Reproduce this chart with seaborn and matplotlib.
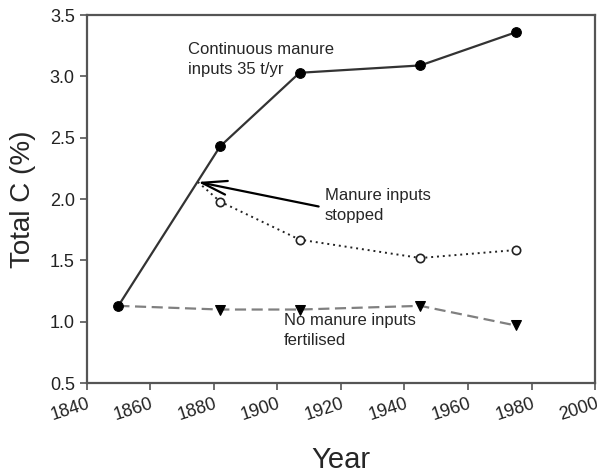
import matplotlib
matplotlib.use("Agg")
import matplotlib.pyplot as plt
import seaborn as sns
import pandas as pd

# data
years = [1850, 1882, 1907, 1945, 1975]
continuous = [1.13, 2.43, 3.03, 3.09, 3.36]
stopped_years = [1875, 1882, 1907, 1945, 1975]
stopped = [2.14, 1.98, 1.67, 1.52, 1.585]
no_manure = [1.13, 1.10, 1.10, 1.13, 0.97]

x_ticks = [1840, 1860, 1880, 1900, 1920, 1940, 1960, 1980, 2000]
y_ticks = [0.5, 1.0, 1.5, 2.0, 2.5, 3.0, 3.5]

sns.set_style("ticks")
plt.rcParams['font.family'] = ['Liberation Sans', 'DejaVu Sans']

fig, ax = plt.subplots(figsize=(5.97, 4.73), dpi=100)
fig.subplots_adjust(left=0.145, right=0.997, top=0.968, bottom=0.19)

df_cont = pd.DataFrame({"Year": years, "C": continuous})
df_stop = pd.DataFrame({"Year": stopped_years, "C": stopped})
df_none = pd.DataFrame({"Year": years, "C": no_manure})

# no manure (dashed grey, down triangles)
sns.lineplot(data=df_none, x="Year", y="C", ax=ax, color="#808080", lw=1.6,
             linestyle=(0, (5, 2.5)), marker="v", markersize=7,
             markerfacecolor="black", markeredgecolor="black", markevery=[1, 2, 3, 4])

# manure stopped (dotted, open circles)
sns.lineplot(data=df_stop, x="Year", y="C", ax=ax, color="#222222", lw=1.4,
             linestyle=(0, (1, 2)), marker="o", markersize=6,
             markerfacecolor="white", markeredgecolor="#222222", markeredgewidth=1.2,
             markevery=[1, 2, 3, 4])

# continuous manure (solid, filled circles)
sns.lineplot(data=df_cont, x="Year", y="C", ax=ax, color="#333333", lw=1.6,
             marker="o", markersize=7, markerfacecolor="black", markeredgecolor="black")

ax.annotate("", xy=(1875, 2.14), xytext=(1913, 1.94),
            arrowprops=dict(arrowstyle="->,head_length=0.9,head_width=0.25",
                            mutation_scale=20, color="black", lw=1.6,
                            shrinkA=0, shrinkB=0))

ax.text(1872, 3.28, "Continuous manure\ninputs 35 t/yr", fontsize=12, va="top", ha="left",
        linespacing=1.4)
ax.text(1915, 2.09, "Manure inputs\nstopped", fontsize=12, va="top", ha="left",
        linespacing=1.4)
ax.text(1902, 1.07, "No manure inputs\nfertilised", fontsize=12, va="top", ha="left",
        linespacing=1.4)

ax.set_xlim(1840, 2000)
ax.set_ylim(0.5, 3.5)
ax.set_xticks(x_ticks)
ax.set_yticks(y_ticks)
ax.set_yticklabels([f"{v:.1f}" for v in y_ticks])
plt.setp(ax.get_xticklabels(), rotation=18, ha="right", rotation_mode="anchor")
ax.tick_params(labelsize=13, colors="#222222", color="#555555", length=5, width=1.2)

for s in ax.spines.values():
    s.set_color("#555555")
    s.set_linewidth(1.6)

ax.set_xlabel("Year", fontsize=21, labelpad=16)
ax.set_ylabel("Total C (%)", fontsize=20, labelpad=10)

plt.savefig("out.png", dpi=100)
